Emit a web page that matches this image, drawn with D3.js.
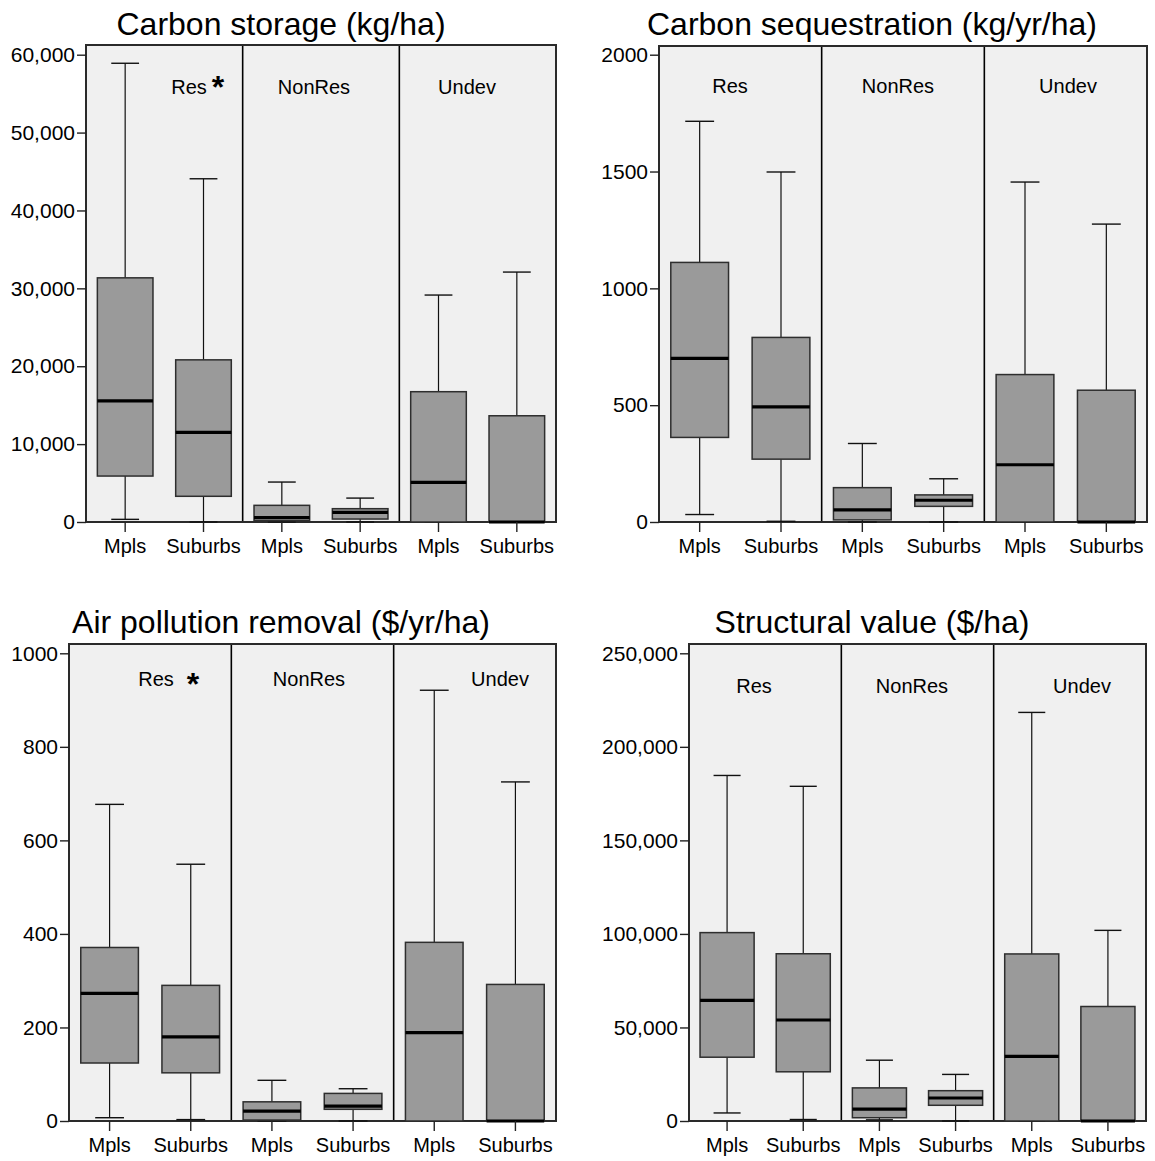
<!DOCTYPE html>
<html>
<head>
<meta charset="utf-8">
<script src="https://cdn.jsdelivr.net/npm/d3@7"></script>
<style>
  body { margin: 0; background: #fff; }
  svg { display: block; }
  text { font-family: "Liberation Sans", Arial, sans-serif; fill: #000; }
</style>
</head>
<body>
<svg id="chart" width="1155" height="1161"></svg>
<script>

const landUses = ["Res", "NonRes", "Undev"]
const places = ["Mpls", "Suburbs"]

const titles = [
    "Carbon storage (kg/ha)",
    "Carbon sequestration (kg/yr/ha)",
    "Air pollution removal ($/yr/ha)",
    "Structural value ($/ha)"
]

// one row per box: [low whisker, Q1, median, Q3, high whisker]
// order: Res Mpls, Res Suburbs, NonRes Mpls, NonRes Suburbs, Undev Mpls, Undev Suburbs
const carbonStorage = [
    [340, 5900, 15550, 31350, 58900],
    [0, 3300, 11520, 20820, 44070],
    [0, 170, 550, 2140, 5130],
    [0, 380, 1240, 1710, 3070],
    [0, 0, 5090, 16730, 29140],
    [0, 0, 0, 13640, 32090]
]

const carbonSequestration = [
    [32, 362, 700, 1111, 1715],
    [3, 269, 493, 790, 1498],
    [0, 9, 52, 147, 336],
    [0, 67, 93, 116, 185],
    [0, 0, 245, 631, 1455],
    [0, 0, 0, 564, 1275]
]

const airPollution = [
    [7, 124, 273, 371, 677],
    [3, 103, 180, 290, 549],
    [0, 2, 21, 41, 87],
    [0, 25, 32, 59, 69],
    [0, 0, 189, 382, 921],
    [0, 0, 0, 292, 725]
]

const structuralValue = [
    [4300, 34100, 64500, 100700, 184700],
    [800, 26300, 54000, 89400, 178900],
    [600, 1750, 6400, 17700, 32500],
    [0, 8400, 12300, 16200, 24900],
    [0, 0, 34500, 89300, 218400],
    [0, 0, 0, 61200, 101900]
]

const panelValues = [carbonStorage, carbonSequestration, airPollution, structuralValue]

const yTicks = [
    [0, 10000, 20000, 30000, 40000, 50000, 60000],
    [0, 500, 1000, 1500, 2000],
    [0, 200, 400, 600, 800, 1000],
    [0, 50000, 100000, 150000, 200000, 250000]
]

const tickFormats = [d3.format(","), d3.format("d"), d3.format("d"), d3.format(",")]

// significant difference marker next to the group label
const starred = [true, false, true, false]

// page layout of each panel
const layouts = [
    { left: 86, right: 556, top: 45, bottom: 522, tickY: 54.7, titleX: 281, titleY: 35,
      labelX: [189, 314, 467], labelY: 94, starX: 218, starY: 98 },
    { left: 659, right: 1147, top: 46, bottom: 522, tickY: 54.7, titleX: 872, titleY: 35,
      labelX: [730, 898, 1068], labelY: 93 },
    { left: 69, right: 556, top: 644, bottom: 1121, tickY: 653.3, titleX: 281, titleY: 633,
      labelX: [156, 309, 500], labelY: 686, starX: 193, starY: 695 },
    { left: 689, right: 1146, top: 644, bottom: 1121, tickY: 653.3, titleX: 872, titleY: 633,
      labelX: [754, 912, 1082], labelY: 693 }
]

const svg = d3.select("#chart")

function drawPanel(i) {

    const L = layouts[i]
    const values = panelValues[i]
    const ticks = yTicks[i]

    const g = svg.append("g")

    const y = d3.scaleLinear()
        .domain([0, d3.max(ticks)])
        .range([L.bottom, L.tickY])

    const gx = d3.scaleBand()
        .domain(landUses)
        .range([L.left, L.right])

    const px = d3.scaleBand()
        .domain(places)
        .range([0, gx.bandwidth()])
        .paddingInner(0.29)
        .paddingOuter(0.145)

    // plot background
    g.append("rect")
        .attr("x", L.left)
        .attr("y", L.top)
        .attr("width", L.right - L.left)
        .attr("height", L.bottom - L.top)
        .attr("fill", "#f0f0f0")

    // group dividers
    g.selectAll(".divider")
        .data(landUses.slice(1))
        .join("line")
        .attr("class", "divider")
        .attr("x1", d => gx(d))
        .attr("x2", d => gx(d))
        .attr("y1", L.top)
        .attr("y2", L.bottom)
        .attr("stroke", "#000")
        .attr("stroke-width", 1.6)

    // frame
    g.append("rect")
        .attr("x", L.left)
        .attr("y", L.top)
        .attr("width", L.right - L.left)
        .attr("height", L.bottom - L.top)
        .attr("fill", "none")
        .attr("stroke", "#2a2a2a")
        .attr("stroke-width", 2)

    const boxes = landUses.flatMap((u, gi) => places.map((p, pi) => ({ u, p, v: values[gi * 2 + pi] })))

    const bw = px.bandwidth()
    const cx = d => gx(d.u) + px(d.p) + bw / 2

    const box = g.selectAll(".box")
        .data(boxes)
        .join("g")
        .attr("class", "box")

    // whisker stems
    box.append("line")
        .attr("x1", cx).attr("x2", cx)
        .attr("y1", d => y(d.v[3])).attr("y2", d => y(d.v[4]))
        .attr("stroke", "#111").attr("stroke-width", 1.2)

    box.append("line")
        .attr("x1", cx).attr("x2", cx)
        .attr("y1", d => y(d.v[0])).attr("y2", d => y(d.v[1]))
        .attr("stroke", "#111").attr("stroke-width", 1.2)

    // whisker caps
    box.selectAll(".cap")
        .data(d => [d.v[0], d.v[4]].map(v => ({ x: cx(d), v })))
        .join("line")
        .attr("class", "cap")
        .attr("x1", d => d.x - bw / 4).attr("x2", d => d.x + bw / 4)
        .attr("y1", d => y(d.v)).attr("y2", d => y(d.v))
        .attr("stroke", "#111").attr("stroke-width", 1.4)

    // interquartile box
    box.append("rect")
        .attr("x", d => cx(d) - bw / 2)
        .attr("y", d => y(d.v[3]))
        .attr("width", bw)
        .attr("height", d => y(d.v[1]) - y(d.v[3]))
        .attr("fill", "#9a9a9a")
        .attr("stroke", "#2e2e2e")
        .attr("stroke-width", 1.5)

    // median
    box.append("line")
        .attr("x1", d => cx(d) - bw / 2).attr("x2", d => cx(d) + bw / 2)
        .attr("y1", d => y(d.v[2])).attr("y2", d => y(d.v[2]))
        .attr("stroke", "#000").attr("stroke-width", 3.2)

    // y axis
    const yAxis = g.append("g")
        .attr("transform", `translate(${L.left},0)`)
        .call(d3.axisLeft(y).tickValues(ticks).tickSize(9).tickPadding(2).tickFormat(tickFormats[i]))

    yAxis.select(".domain").remove()
    yAxis.selectAll(".tick line").attr("stroke", "#222").attr("stroke-width", 1.4)
    yAxis.selectAll("text").attr("font-size", 21).attr("fill", "#000")

    // x axes, one per land use group
    landUses.forEach(u => {
        const xAxis = g.append("g")
            .attr("transform", `translate(${gx(u)},${L.bottom})`)
            .call(d3.axisBottom(px).tickSize(10).tickPadding(7))
        xAxis.select(".domain").remove()
        xAxis.selectAll(".tick line").attr("stroke", "#222").attr("stroke-width", 1.4)
        xAxis.selectAll("text").attr("font-size", 20).attr("fill", "#000")
    })

    // group labels
    g.selectAll(".group-label")
        .data(landUses)
        .join("text")
        .attr("class", "group-label")
        .attr("x", (d, k) => L.labelX[k])
        .attr("y", L.labelY)
        .attr("text-anchor", "middle")
        .attr("font-size", 20)
        .text(d => d)

    if (starred[i]) {
        g.append("text")
            .attr("x", L.starX)
            .attr("y", L.starY)
            .attr("text-anchor", "middle")
            .attr("font-size", 32)
            .attr("font-weight", "bold")
            .text("*")
    }

    // title
    g.append("text")
        .attr("x", L.titleX)
        .attr("y", L.titleY)
        .attr("text-anchor", "middle")
        .attr("font-size", 32)
        .text(titles[i])

}

titles.forEach((t, i) => drawPanel(i))

</script>
</body>
</html>
